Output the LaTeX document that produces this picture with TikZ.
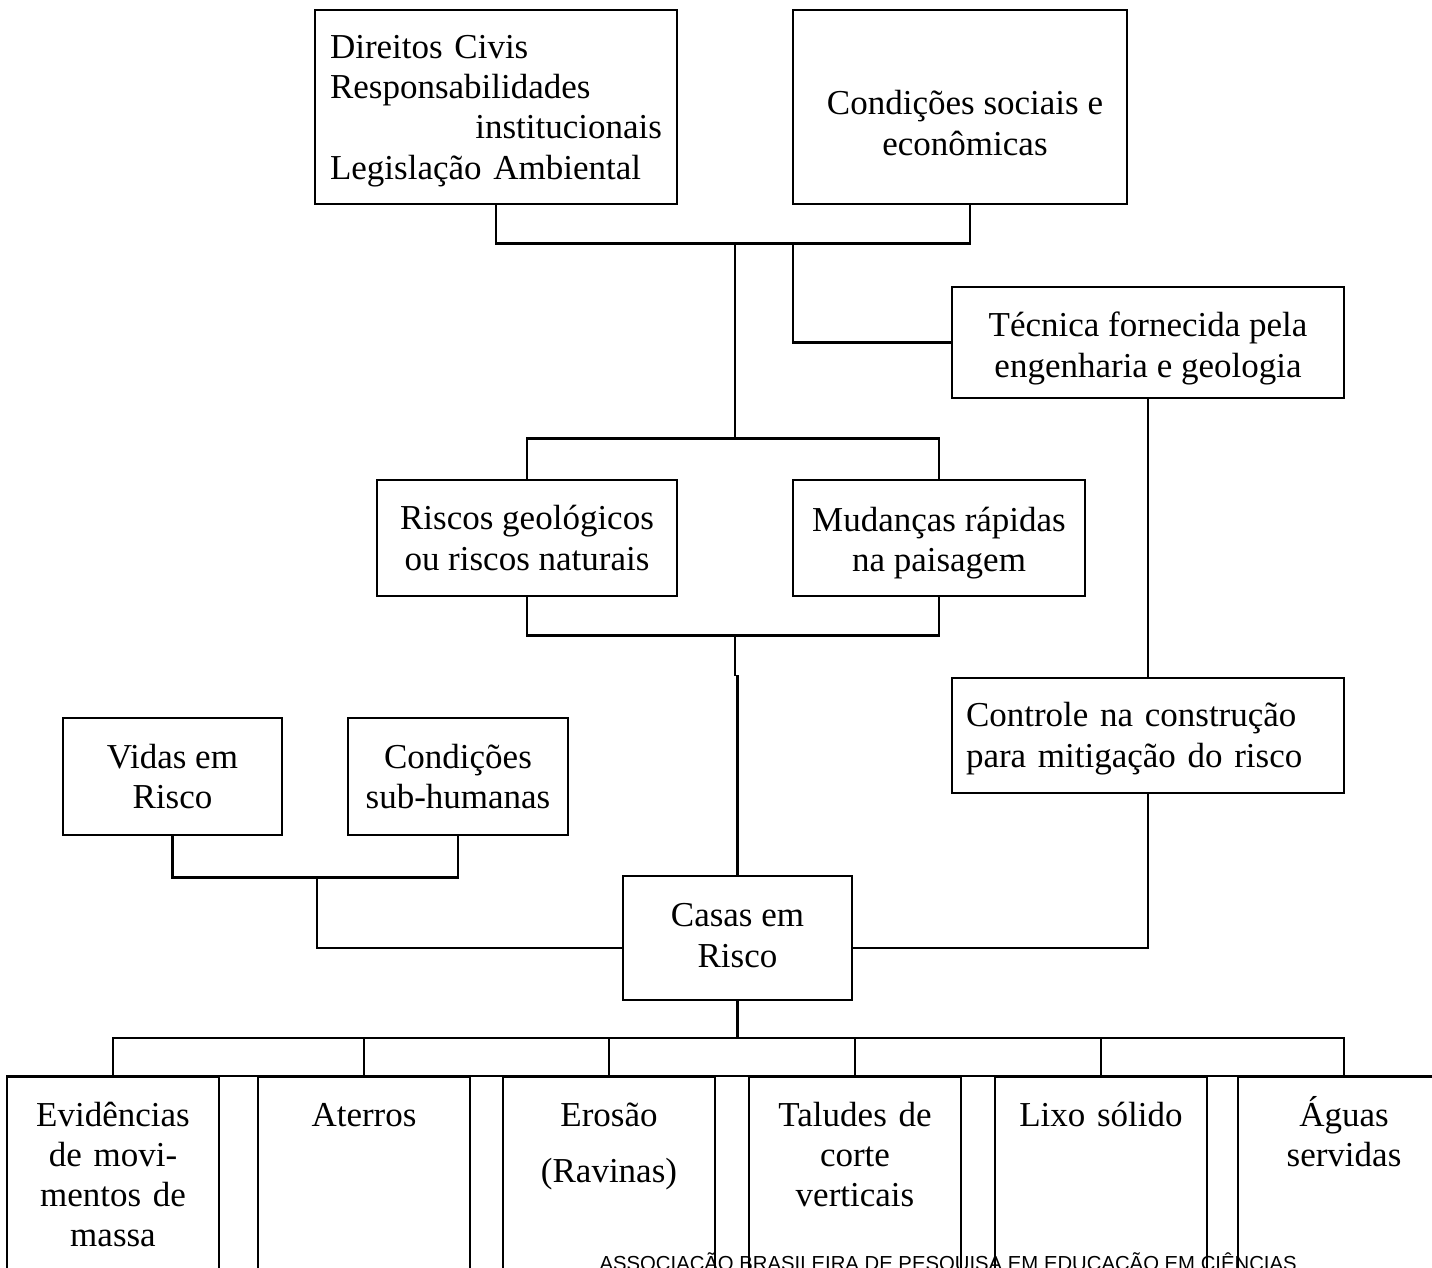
\documentclass[tikz,border=0pt]{standalone}
\usepackage{fontspec}
\setmainfont{Liberation Serif}
\newfontfamily\rodapefont{Liberation Sans}
\usepackage{tikz}
\usetikzlibrary{calc,positioning}
\tikzset{
  caixa/.style={draw, line width=2.6pt, inner sep=0pt, align=center},
  rotulo/.style={align=center, inner sep=0pt},
  coluna/.style={draw, line width=2pt, inner sep=0pt, anchor=north, minimum width=212pt, minimum height=260pt},
  liga/.style={line width=2.6pt},
  texto/.style={align=center, text width=210pt, anchor=base},
  rodape/.style={font=\rodapefont\fontsize{20.3}{24}\selectfont, anchor=base west}
}

\begin{document}
\begin{tikzpicture}[x=1pt, y=-1pt, font=\fontsize{35}{40.3}\selectfont]
  \useasboundingbox (0,0) rectangle (1432,1268);

  % upper boxes
  \node[caixa, minimum width=362pt, minimum height=194pt] (dir) at (496,107) {};
  \node[rotulo, text width=332pt, align=left] (dirTexto) at ($(dir)+(0,4)$)
    {Direitos Civis\\Responsabilidades\\\hfill institucionais\hspace*{23pt}\\Legislação Ambiental};
  \node[caixa, minimum width=334pt, minimum height=194pt] (soc) at (960,107) {};
  \node[rotulo] (socTexto) at ($(soc)+(5,16)$) {Condições sociais e\\econômicas};
  \node[caixa, minimum width=392pt, minimum height=111pt] (tec) at (1148,342.5) {};
  \node[rotulo] (tecTexto) at ($(tec)+(0,6)$) {Técnica fornecida pela\\engenharia e geologia};
  \node[caixa, minimum width=300pt, minimum height=116pt] (ris) at (527,538)
    {Riscos geológicos\\ou riscos naturais};
  \node[caixa, minimum width=292pt, minimum height=116pt] (mud) at (939,538) {};
  \node[rotulo] (mudTexto) at ($(mud)+(0,5)$) {Mudanças rápidas\\na paisagem};
  \node[caixa, minimum width=392pt, minimum height=115pt] (con) at (1148,735.5) {};
  \node[rotulo, text width=364pt, align=left] (conTexto) at ($(con)+(0,3)$)
    {Controle na construção\\para mitigação do risco};
  \node[caixa, minimum width=219pt, minimum height=117pt] (vid) at (172.5,776.5) {Vidas em\\Risco};
  \node[caixa, minimum width=220pt, minimum height=117pt] (sub) at (458,776.5) {Condições\\sub-humanas};
  \node[caixa, minimum width=229pt, minimum height=124pt] (cas) at (737.5,938) {};
  \node[rotulo] (casTexto) at ($(cas)+(0,-2.5)$) {Casas em\\Risco};

  % bottom row
  \node[coluna] (ev) at (113,1076) {};
  \node[coluna] (at) at (364,1076) {};
  \node[coluna] (er) at (609,1076) {};
  \node[coluna] (ta) at (855,1076) {};
  \node[coluna] (li) at (1101,1076) {};
  \node[coluna] (ag) at (1344,1076) {};
  \node[texto] (evTexto) at (113,1126) {Evidências\\de movi-\\mentos de\\massa};
  \node[texto] (atTexto) at (364,1126) {Aterros};
  \node[texto] (erTexto) at (609,1126) {Erosão\\[16pt](Ravinas)};
  \node[texto] (taTexto) at (855,1126) {Taludes de\\corte\\verticais};
  \node[texto] (liTexto) at (1101,1126) {Lixo sólido};
  \node[texto] (agTexto) at (1344,1126) {Águas\\servidas};
  \coordinate (borda) at (1432,1076);
  \draw[line width=2.6pt] (ev.north west) -- (borda);

  % connectors
  \coordinate (t1) at (735,242);
  \coordinate (t2) at (735,440);
  \coordinate (t3) at (793,242);
  \coordinate (t4) at (317,876);
  \coordinate (t5) at (735,634);
  \draw[liga] (dir.south) |- ($(soc.south)+(10,38)$) -- ($(soc.south)+(10,0)$);
  \draw[liga] (t1) -- (t2);
  \draw[liga] (t3) |- (tec.west);
  \draw[liga] (ris.north) -- ++(0,-40) -| (mud.north);
  \draw[liga] (tec.south) -- (con.north);
  \draw[liga] (con.south) |- ($(cas.east)+(0,10)$);
  \draw[liga] (ris.south) -- ++(0,38) -| (mud.south);
  \draw[liga] (t5) -- ++(0,42);
  \draw[liga] (cas.north) -- ++(0,-200);
  \draw[liga] (vid.south) -- ++(0,41) -| (sub.south);
  \draw[liga] (t4) |- ($(cas.west)+(0,10)$);
  \draw[liga] (cas.south) -- ++(0,38);
  \draw[liga] (ev.north) -- ++(0,-38) -| (ag.north);
  \draw[liga] (at.north) -- ++(0,-38);
  \draw[liga] (er.north) -- ++(0,-38);
  \draw[liga] (ta.north) -- ++(0,-38);
  \draw[liga] (li.north) -- ++(0,-38);

  % page footer
  \node[rodape] (ass) at (596,1270) {ASSOCIAÇÃO BRASILEIRA DE PESQUISA EM EDUCAÇÃO EM CIÊNCIAS};
\end{tikzpicture}
\end{document}
